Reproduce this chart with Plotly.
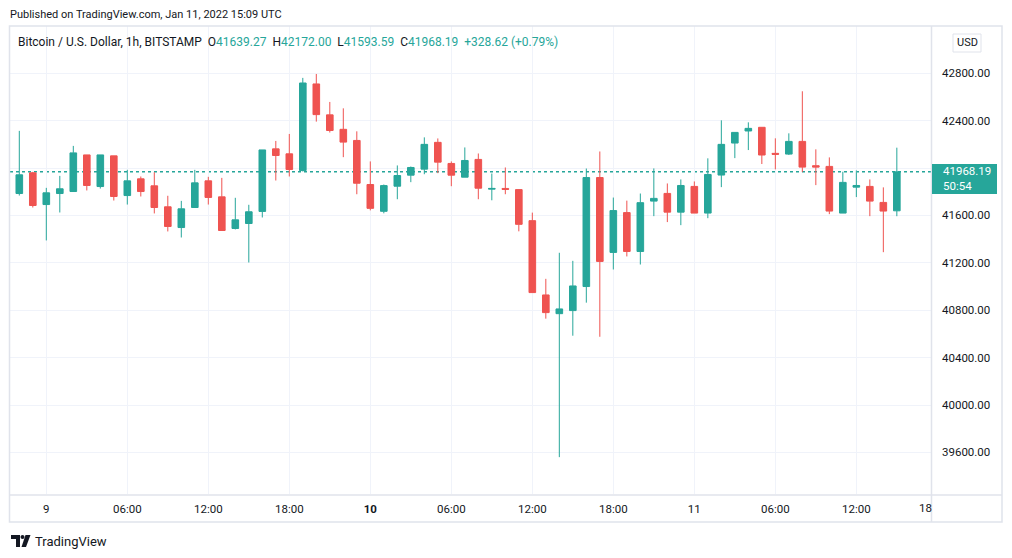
import pandas as pd
import plotly.graph_objects as go

# hourly BTC/USD candles, Bitstamp, Jan 8 21:00 -> Jan 11 15:00 (UTC)
times = pd.date_range("2022-01-08 21:00", periods=67, freq="h")

open_ = [40950, 41785, 41960, 41692, 41785, 41802, 42111, 41844, 42103, 41768,
         41909, 41850, 41673, 41498, 41667, 41892, 41757, 41490, 41532, 41634,
         42162, 42120, 41979, 42710, 42449, 42327, 42233, 41861, 41635, 41847,
         41940, 41991, 42217, 42039, 41923, 42073, 41822, 41828, 41818, 41556,
         40929, 40771, 40797, 41000, 41920, 41288, 41624, 41296, 41721, 41786,
         41628, 41845, 41620, 41941, 42211, 42313, 42344, 42124, 42118, 42225,
         42020, 42014, 41620, 41839, 41845, 41710, 41639.27]
high = [41810, 42314, 41968, 41833, 41934, 42187, 42111, 42111, 42103, 41985,
        41929, 41965, 41766, 41723, 41985, 41926, 41917, 41749, 41690, 42153,
        42229, 42288, 42761, 42794, 42558, 42504, 42310, 42056, 41861, 42022,
        42013, 42259, 42250, 42056, 42174, 42123, 41954, 42005, 41818, 41624,
        41065, 41285, 41217, 41996, 42140, 41751, 41725, 41785, 41997, 41870,
        41904, 41887, 42082, 42403, 42301, 42386, 42344, 42251, 42293, 42648,
        42158, 42090, 41969, 41980, 41904, 41837, 42172.00]
low = [40900, 41768, 41667, 41389, 41625, 41799, 41811, 41827, 41726, 41692,
       41760, 41617, 41465, 41414, 41667, 41692, 41473, 41482, 41203, 41583,
       41895, 41929, 41971, 42392, 42300, 42092, 41779, 41643, 41618, 41737,
       41881, 41948, 41957, 41847, 41923, 41737, 41728, 41779, 41466, 40949,
       40729, 39560, 40585, 40864, 40576, 41144, 41254, 41186, 41594, 41544,
       41518, 41620, 41577, 41839, 42084, 42152, 42034, 41989, 42110, 41966,
       41856, 41611, 41620, 41755, 41594, 41290, 41593.59]
close = [41800, 41943, 41684, 41791, 41825, 42128, 41853, 42111, 41760, 41892,
         41802, 41667, 41507, 41656, 41875, 41752, 41473, 41563, 41631, 42153,
         42106, 41988, 42718, 42451, 42317, 42219, 41872, 41660, 41852, 41937,
         42005, 42200, 42050, 41940, 42064, 41830, 41828, 41820, 41525, 40949,
         40780, 40811, 41005, 41920, 41212, 41641, 41296, 41708, 41744, 41628,
         41853, 41620, 41946, 42200, 42301, 42335, 42110, 42116, 42225, 42008,
         42008, 41637, 41879, 41853, 41721, 41637, 41968.19]

time_tickvals = ["2022-01-09 00:00", "2022-01-09 06:00", "2022-01-09 12:00", "2022-01-09 18:00",
                 "2022-01-10 00:00", "2022-01-10 06:00", "2022-01-10 12:00", "2022-01-10 18:00",
                 "2022-01-11 00:00", "2022-01-11 06:00", "2022-01-11 12:00"]
time_ticktext = ["9", "06:00", "12:00", "18:00", "<b>10</b>", "06:00", "12:00", "18:00",
                 "11", "06:00", "12:00"]
price_ticks = [39600, 40000, 40400, 40800, 41200, 41600, 42000, 42400, 42800]

last_price = close[-1]
countdown = "50:54"

UP = "#26a69a"
DOWN = "#ef5350"
TEXT = "#131722"
GRID = "#f0f3fa"
BORDER = "#e0e3eb"
FONT = "Roboto"

# the page body adds an 8px margin, so the figure is a bit smaller than the window
OFF = 8
W, H = 1012 - OFF, 558 - OFF
# plot area in screen pixels
L, R, T, B = 10, 931, 26, 494


def fx(px):
    return (px - L) / (R - L)


def fy(py):
    return (B - py) / (B - T)


fig = go.Figure(go.Candlestick(
    x=times, open=open_, high=high, low=low, close=close,
    increasing=dict(line=dict(color=UP, width=1), fillcolor=UP),
    decreasing=dict(line=dict(color=DOWN, width=1), fillcolor=DOWN),
    whiskerwidth=0, hoverinfo="skip",
))

shapes = [
    # last price dotted line
    dict(type="line", xref="paper", yref="y", x0=0, x1=1, y0=last_price, y1=last_price,
         line=dict(color=UP, width=1.5, dash="dot"), layer="below"),
    # frame and dividers
    dict(type="rect", xref="paper", yref="paper", x0=fx(9.5), x1=fx(1002), y0=fy(522), y1=fy(26),
         line=dict(color=BORDER, width=1.5)),
    dict(type="line", xref="paper", yref="paper", x0=fx(931.5), x1=fx(931.5), y0=fy(522), y1=fy(26),
         line=dict(color=BORDER, width=1.5)),
    dict(type="line", xref="paper", yref="paper", x0=fx(10), x1=fx(1002), y0=fy(495), y1=fy(495),
         line=dict(color=BORDER, width=1.5)),
    # last price label box
    dict(type="rect", xref="paper", yref="paper", x0=fx(932), x1=fx(997), y0=fy(194), y1=fy(164),
         fillcolor=UP, line=dict(width=0), layer="above"),
    # USD box
    dict(type="rect", xref="paper", yref="paper", x0=fx(953), x1=fx(981), y0=fy(52), y1=fy(34),
         fillcolor="white", line=dict(color=BORDER, width=1)),
    # TradingView logo
    dict(type="path", xref="paper", yref="paper",
         path=f"M {fx(11)},{fy(535)} L {fx(20)},{fy(535)} L {fx(20)},{fy(547)} L {fx(16)},{fy(547)} "
              f"L {fx(16)},{fy(539)} L {fx(11)},{fy(539)} Z",
         fillcolor=TEXT, line=dict(width=0)),
    dict(type="circle", xref="paper", yref="paper", x0=fx(20.5), x1=fx(24.5), y0=fy(539), y1=fy(535),
         fillcolor=TEXT, line=dict(width=0)),
    dict(type="path", xref="paper", yref="paper",
         path=f"M {fx(25.5)},{fy(535)} L {fx(30.5)},{fy(535)} L {fx(26)},{fy(547)} L {fx(21.5)},{fy(547)} Z",
         fillcolor=TEXT, line=dict(width=0)),
]

g = f"<span style='color:{UP}'>"
header = ("Bitcoin / U.S. Dollar, 1h, BITSTAMP&nbsp;&nbsp;"
          f"O{g}{open_[-1]:.2f}</span>&nbsp;&nbsp;H{g}{high[-1]:.2f}</span>&nbsp;&nbsp;"
          f"L{g}{low[-1]:.2f}</span>&nbsp;&nbsp;C{g}{close[-1]:.2f}</span>&nbsp;&nbsp;"
          f"{g}+328.62 (+0.79%)</span>")

annotations = [
    dict(text="Published on TradingView.com, Jan 11, 2022 15:09 UTC", x=fx(8), y=fy(14),
         font=dict(size=11, color=TEXT)),
    dict(text=header, x=fx(16), y=fy(42), font=dict(size=12, color=TEXT)),
    dict(text="USD", x=fx(967), y=fy(43), xanchor="center", font=dict(size=11, color=TEXT)),
    dict(text=f"{last_price:.2f}<br>{countdown}", x=fx(941), y=fy(179), align="left",
         font=dict(size=11.5, color="white")),
    dict(text="18", x=fx(934), y=fy(508), xanchor="right", font=dict(size=11.5, color=TEXT)),
    dict(text="TradingView", x=fx(33), y=fy(541), font=dict(size=13, color=TEXT)),
]
for a in annotations:
    a.update(xref="paper", yref="paper", showarrow=False)
    a.setdefault("xanchor", "left")
    a.setdefault("yanchor", "middle")

fig.update_layout(
    width=W, height=H,
    margin=dict(l=L - OFF, r=W - (R - OFF), t=T - OFF, b=H - (B - OFF)),
    paper_bgcolor="white", plot_bgcolor="white",
    font=dict(family=FONT, size=12, color=TEXT),
    showlegend=False, hovermode=False,
    shapes=shapes, annotations=annotations,
    xaxis=dict(
        range=["2022-01-08 21:18:40", "2022-01-11 17:31:50"],
        rangeslider=dict(visible=False),
        tickvals=time_tickvals, ticktext=time_ticktext,
        showgrid=True, gridcolor=GRID, gridwidth=1,
        showline=False, zeroline=False, ticks="", ticklabelstandoff=6,
        tickfont=dict(size=11.5, color=TEXT),
    ),
    yaxis=dict(
        side="right", range=[39249, 43199],
        tickvals=price_ticks, tickformat=".2f",
        showgrid=True, gridcolor=GRID, gridwidth=1,
        showline=False, zeroline=False, ticks="", ticklabelstandoff=10,
        tickfont=dict(size=11.5, color=TEXT),
    ),
)

fig.write_html("out.html", config={"displayModeBar": False})
